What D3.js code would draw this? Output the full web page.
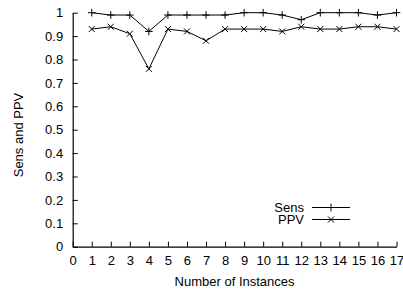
<!DOCTYPE html>
<html>
<head>
<meta charset="utf-8">
<script src="https://cdn.jsdelivr.net/npm/d3@7"></script>
<style>
  body { margin: 0; background: #fff; }
  svg { display: block; font-family: "Liberation Sans", Arial, sans-serif; }
</style>
</head>
<body>
<svg id="chart" width="403" height="289"></svg>
<script>
// --- data ---
const instances = [1, 2, 3, 4, 5, 6, 7, 8, 9, 10, 11, 12, 13, 14, 15, 16, 17];
const sensValues = [1.0, 0.99, 0.99, 0.92, 0.99, 0.99, 0.99, 0.99, 1.0, 1.0, 0.99, 0.97, 1.0, 1.0, 1.0, 0.99, 1.0];
const ppvValues = [0.93, 0.94, 0.91, 0.76, 0.93, 0.92, 0.88, 0.93, 0.93, 0.93, 0.92, 0.94, 0.93, 0.93, 0.94, 0.94, 0.93];
const xTicks = d3.range(0, 18);
const yTicks = [0, 0.1, 0.2, 0.3, 0.4, 0.5, 0.6, 0.7, 0.8, 0.9, 1];

const svg = d3.select("#chart");
const margin = { left: 72.7, right: 6.5, top: 12.7, bottom: 42.3 };
const W = 403, H = 289;
const FONT = "13px";

const x = d3.scaleLinear().domain([0, 17]).range([margin.left, W - margin.right]);
const y = d3.scaleLinear().domain([0, 1]).range([H - margin.bottom, margin.top]);

// axes (ticks point inward)
const xAxis = svg.append("g")
    .attr("transform", `translate(0,${y(0)})`)
    .call(d3.axisBottom(x).tickValues(xTicks).tickSizeInner(-5).tickSizeOuter(0).tickPadding(9));
const yAxis = svg.append("g")
    .attr("transform", `translate(${x(0)},0)`)
    .call(d3.axisLeft(y).tickValues(yTicks).tickFormat(d3.format("")).tickSizeInner(-5).tickSizeOuter(0).tickPadding(9.5));

[xAxis, yAxis].forEach((a) => {
    a.select(".domain").attr("stroke", "#000").attr("stroke-width", 1.2);
    a.selectAll(".tick line").attr("stroke", "#000");
    a.selectAll(".tick text").attr("fill", "#000").style("font-size", FONT)
        .style("font-family", "'Liberation Sans', Arial, sans-serif");
});

// axis titles
svg.append("text")
    .attr("x", (x(0) + x(17)) / 2)
    .attr("y", 286)
    .attr("text-anchor", "middle")
    .style("font-size", FONT)
    .text("Number of Instances");
svg.append("text")
    .attr("transform", `translate(22.5,135) rotate(-90)`)
    .attr("text-anchor", "middle")
    .style("font-size", FONT)
    .text("Sens and PPV");

// markers
function plusPath(cx, cy, r) {
    return `M${cx - r},${cy}H${cx + r}M${cx},${cy - r}V${cy + r}`;
}
function crossPath(cx, cy, r) {
    return `M${cx - r},${cy - r}L${cx + r},${cy + r}M${cx - r},${cy + r}L${cx + r},${cy - r}`;
}

const series = [
    { name: "Sens", values: sensValues, marker: plusPath, r: 3.8 },
    { name: "PPV", values: ppvValues, marker: crossPath, r: 3 },
];

const line = d3.line().x((d) => x(d[0])).y((d) => y(d[1]));

series.forEach((s) => {
    const pts = instances.map((v, i) => [v, s.values[i]]);
    svg.append("path")
        .attr("d", line(pts))
        .attr("fill", "none")
        .attr("stroke", "#000")
        .attr("stroke-width", 1);
    svg.append("path")
        .attr("d", pts.map((p) => s.marker(x(p[0]), y(p[1]), s.r)).join(""))
        .attr("fill", "none")
        .attr("stroke", "#000")
        .attr("stroke-width", 1);
});

// legend
const legend = svg.append("g");
series.forEach((s, i) => {
    const ly = 207.5 + i * 12;
    legend.append("text")
        .attr("x", 304)
        .attr("y", ly + 4.5)
        .attr("text-anchor", "end")
        .style("font-size", FONT)
        .text(s.name);
    legend.append("line")
        .attr("x1", 312).attr("x2", 350)
        .attr("y1", ly).attr("y2", ly)
        .attr("stroke", "#000");
    legend.append("path")
        .attr("d", s.marker(331, ly, s.r))
        .attr("fill", "none")
        .attr("stroke", "#000");
});
</script>
</body>
</html>
